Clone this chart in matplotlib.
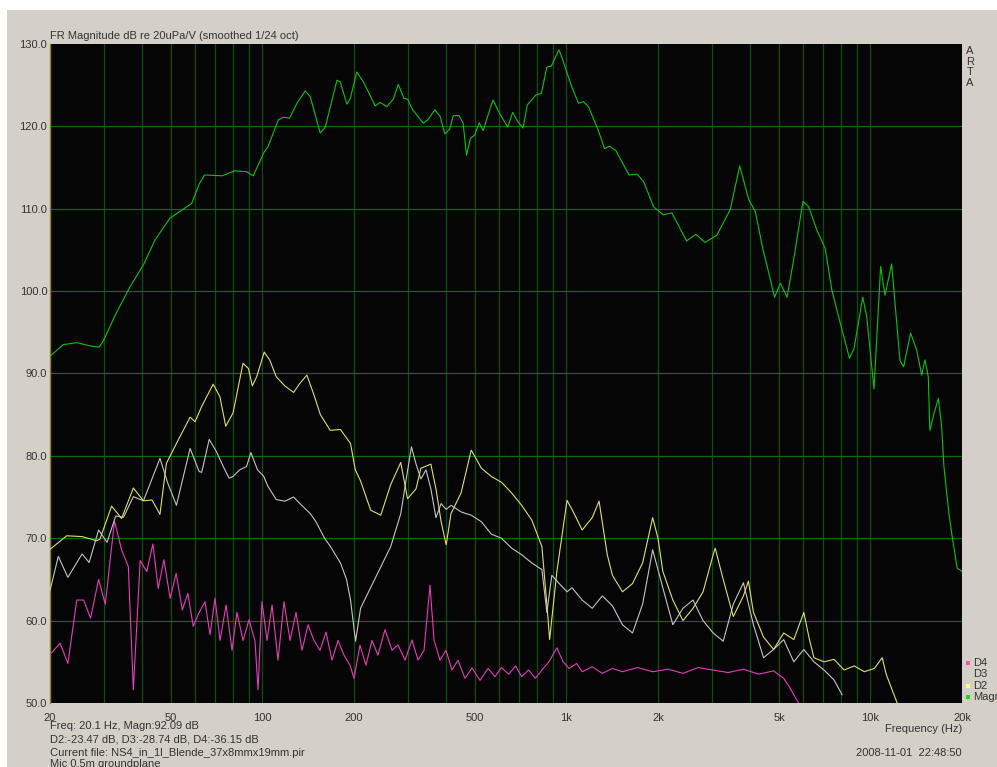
import numpy as np
import matplotlib.pyplot as plt
from matplotlib.patches import Rectangle

# =========================
# DATA (frequency in Hz, level in dB)
# =========================
magn_f = [20, 22.1, 24.5, 27.1, 29.0, 29.9, 33.0, 36.7, 40.6, 44.3, 49.6, 58.5,
          61.9, 64.5, 73.7, 81, 88.6, 93.3, 101.3, 104.2, 112.8, 117.1, 122.7,
          129.8, 138.2, 143.6, 154.8, 160.9, 175.8, 180.2, 189.5, 194.5, 204.3,
          214.8, 234.8, 243.9, 256.4, 269.3, 279.7, 292, 300, 312, 338, 350,
          369, 384, 398, 413, 424, 443, 457, 469, 483, 499, 516, 532, 548, 573,
          602, 641, 665, 691, 720, 743, 772, 791, 827, 862, 891, 944, 967, 1041,
          1095, 1137, 1181, 1270, 1334, 1385, 1454, 1606, 1708, 1794, 1933,
          2083, 2220, 2334, 2484, 2666, 2854, 3124, 3457, 3714, 3979, 4180,
          4433, 4629, 4834, 5056, 5316, 5588, 5997, 6260, 6665, 7095, 7465,
          7755, 8528, 8830, 9430, 9720, 10270, 10800, 11160, 11740, 12500,
          12850, 13550, 14190, 14740, 15110, 15490, 15680, 16200, 16720, 17140,
          17440, 18110, 18570, 19290, 20000]
magn_db = [92.1, 93.5, 93.75, 93.35, 93.2, 93.9, 97.3, 100.55, 103.2, 106.2,
           108.85, 110.65, 113.0, 114.1, 114.0, 114.6, 114.5, 114.0, 116.9,
           117.5, 120.8, 121.1, 121.0, 122.8, 124.3, 123.6, 119.2, 119.9, 125.6,
           125.4, 122.7, 123.4, 126.6, 125.4, 122.5, 122.9, 122.4, 123.3, 125.1,
           123.4, 123.3, 122.0, 120.4, 120.8, 122.0, 121.2, 119.1, 119.65,
           121.3, 121.3, 120.4, 116.5, 118.55, 118.95, 120.45, 119.5, 121.0,
           123.2, 121.6, 119.9, 121.7, 120.6, 119.8, 122.6, 123.3, 123.8, 124.0,
           127.2, 127.3, 129.3, 128.3, 124.8, 122.8, 123.0, 122.4, 119.6, 117.3,
           117.6, 117.05, 114.1, 114.2, 113.3, 110.25, 109.25, 109.5, 108.0,
           106.1, 106.9, 105.9, 106.8, 109.9, 115.2, 111.1, 109.65, 105.0, 102.2,
           99.25, 100.95, 99.25, 103.8, 110.9, 110.25, 107.4, 105.2, 100.1, 97.7,
           91.85, 93.05, 99.25, 96.9, 88.1, 103.0, 99.5, 103.3, 91.6, 90.8, 94.9,
           92.85, 89.8, 91.65, 89.6, 83.1, 85.2, 87.0, 83.6, 78.7, 73.0, 70.2,
           66.35, 66.0]

d2_f = [20, 22.7, 25.5, 28.5, 29.2, 31.9, 34.4, 37.6, 40.6, 43.3, 46.0, 48.3,
        52.1, 57.8, 60, 63.1, 68.8, 72.4, 75.7, 80.0, 86.3, 89.9, 92.6, 95.7,
        101.3, 105.6, 111, 118.4, 126.6, 132.7, 140, 148.3, 155, 167, 180.5,
        194.8, 202, 210, 227, 245, 264, 285, 300, 320, 332, 358, 372, 387, 402,
        417, 450, 486, 525, 566, 611, 660, 712, 769, 830, 862, 880, 930, 1004,
        1043, 1126, 1215, 1280, 1362, 1416, 1528, 1649, 1780, 1921, 2000, 2074,
        2238, 2416, 2608, 2814, 3037, 3084, 3278, 3538, 3819, 3967, 4121, 4448,
        4801, 5182, 5593, 6036, 6271, 6515, 7032, 7589, 8191, 8840, 9541,
        10300, 10930, 11260, 11780, 12240]
d2_db = [68.65, 70.3, 70.2, 69.7, 69.9, 73.9, 72.4, 76.1, 74.55, 74.65, 72.9,
         79.1, 81.5, 84.7, 84.15, 86.0, 88.7, 87.2, 83.6, 85.2, 91.25, 90.6,
         88.5, 89.6, 92.6, 91.65, 89.6, 88.5, 87.7, 88.8, 89.8, 87.2, 85.0,
         83.1, 83.2, 81.5, 78.3, 77.0, 73.4, 72.8, 76.5, 79.2, 74.8, 76.0,
         78.5, 79.0, 76.0, 72.0, 69.2, 73.0, 75.5, 80.7, 78.5, 77.5, 76.8,
         75.5, 74.0, 72.2, 69.0, 62.0, 57.7, 66.0, 74.6, 73.5, 71.0, 72.5,
         74.5, 68.0, 65.5, 63.5, 64.5, 67.0, 72.5, 70.0, 66.0, 62.5, 60.0, 61.5,
         63.5, 68.0, 68.8, 65.0, 60.5, 63.0, 64.8, 61.0, 58.0, 56.5, 58.5,
         57.7, 61.0, 58.0, 55.5, 55.0, 55.3, 54.0, 54.5, 53.8, 54.2, 55.5, 53.5,
         51.6, 50.0]

d3_f = [20, 21.3, 22.9, 25.5, 26.9, 28.9, 30.8, 32.9, 34.9, 37.6, 40.6, 46,
        48.8, 52.1, 57.8, 61.9, 63.1, 66.8, 70.6, 74.1, 77.6, 80.0, 84.1, 88.6,
        91.6, 96.3, 100.8, 104.2, 111, 118.4, 126.6, 132.8, 143.6, 150, 160,
        167.3, 180.5, 189, 194.8, 202.4, 210.2, 226.8, 244.8, 264.2, 285.1,
        298, 309, 320, 332, 345, 358, 372, 387, 402, 417, 450, 486, 525, 566,
        611, 660, 712, 769, 830, 862, 895, 930, 1004, 1043, 1126, 1215, 1312,
        1416, 1528, 1649, 1780, 1921, 2074, 2238, 2416, 2608, 2814, 3037, 3278,
        3538, 3819, 4121, 4448, 4801, 5182, 5593, 6036, 6515, 7032, 7589, 8064]
d3_db = [63.65, 67.8, 65.25, 68.1, 67.05, 71.0, 69.5, 72.7, 72.55, 75.05,
         74.55, 79.7, 76.7, 74.0, 80.9, 78.1, 78.0, 82.0, 80.5, 78.8, 77.3,
         77.5, 78.3, 78.7, 80.4, 78.3, 77.55, 76.3, 74.7, 74.5, 75.0, 74.2,
         73.0, 72.0, 70.0, 69.0, 67.0, 65.0, 62.5, 57.5, 61.5, 64.0, 66.5,
         69.0, 73.0, 77.5, 81.1, 79.0, 77.2, 78.3, 76.0, 72.5, 74.2, 73.5,
         74.0, 73.2, 72.8, 72.0, 70.5, 70.0, 68.8, 68.0, 67.0, 66.2, 61.0,
         65.5, 64.8, 63.5, 64.0, 62.5, 61.5, 63.0, 61.8, 59.5, 58.5, 62.0,
         68.6, 64.0, 59.5, 61.5, 62.5, 60.0, 58.5, 57.5, 62.0, 64.6, 59.5,
         55.5, 56.5, 57.7, 55.0, 56.5, 55.0, 54.0, 52.8, 51.0]

d4_f = [20, 21.6, 22.9, 24.5, 25.8, 27.2, 28.9, 30.4, 32.6, 34.4, 36.2, 37.6,
        39.6, 41.6, 43.6, 45.4, 47.4, 49.7, 52.0, 54.5, 56.8, 59.2, 61.5, 64.7,
        67.2, 69.8, 72.5, 75.9, 79.4, 82.4, 86.3, 90.3, 94.5, 96.7, 99.6, 103.5,
        107.5, 112.5, 117.7, 123.2, 128.9, 134.9, 141.2, 147.7, 154.6, 161.8,
        169.3, 177.2, 185.4, 194.0, 200, 209.3, 219, 229.2, 239.8, 252.9,
        266.8, 279.2, 294.4, 310.4, 324.8, 339.9, 355.7, 366.6, 383.6, 401.4,
        420.1, 439.6, 463.6, 488.9, 519.5, 552, 582, 611, 645, 680, 712, 750,
        790, 830, 875, 930, 975, 1020, 1080, 1126, 1215, 1312, 1416, 1528,
        1713, 1921, 2160, 2416, 2710, 3037, 3400, 3819, 4290, 4801, 5182, 5400,
        5593, 5800]
d4_db = [55.9, 57.25, 54.8, 62.5, 62.5, 60.3, 65.0, 62.0, 72.1, 68.6, 66.55,
         51.6, 67.3, 65.95, 69.3, 63.9, 67.4, 62.7, 65.75, 61.3, 63.3, 59.3,
         60.8, 62.3, 58.3, 62.7, 57.6, 61.9, 56.4, 61.0, 57.6, 60.1, 57.5,
         51.6, 62.3, 57.6, 61.9, 55.2, 62.3, 57.6, 61.0, 56.4, 59.5, 57.6,
         56.4, 58.6, 55.2, 57.6, 55.8, 54.6, 53.0, 57.0, 54.6, 57.6, 55.8,
         58.9, 56.4, 57.05, 55.2, 57.65, 55.2, 56.4, 64.3, 57.65, 55.2, 56.4,
         54.0, 55.2, 53.0, 54.25, 52.75, 54.2, 53.2, 54.3, 53.5, 54.5, 53.2,
         54.0, 53.0, 54.0, 55.0, 56.7, 55.0, 54.2, 54.8, 53.8, 54.4, 53.6,
         54.2, 53.8, 54.3, 53.8, 54.1, 53.6, 54.3, 54.0, 53.7, 54.1, 53.5,
         53.9, 53.0, 52.0, 51.0, 50.0]

x_ticks = [20, 50, 100, 200, 500, 1000, 2000, 5000, 10000, 20000]
x_tick_labels = ["20", "50", "100", "200", "500", "1k", "2k", "5k", "10k", "20k"]
y_ticks = [50, 60, 70, 80, 90, 100, 110, 120, 130]

# =========================
# FIGURE
# =========================
W, H = 997, 767
fig = plt.figure(figsize=(W / 100, H / 100), dpi=100)
fig.patch.set_facecolor("white")

# window background panel
bg = fig.add_axes([0, 0, 1, 1], zorder=-10)
bg.set_xlim(0, W)
bg.set_ylim(H, 0)
bg.axis("off")
bg.add_patch(Rectangle((7, 10), W - 7, H - 10, facecolor="#d4d0c8", edgecolor="none"))

ax = fig.add_axes([50 / W, 1 - 703 / H, 912 / W, 659 / H], zorder=1)
ax.set_facecolor("#050505")
ax.set_xscale("log")
ax.set_xlim(20, 20000)
ax.set_ylim(50, 130)

# grid
minor_x = [m * d for d in (10, 100, 1000, 10000) for m in range(1, 10)]
minor_x = [v for v in minor_x if 20 < v < 20000]
for v in minor_x:
    ax.axvline(v, color="#0b4f0b", lw=0.9, zorder=1)
for v in y_ticks[1:-1]:
    ax.axhline(v, color="#0f6a0f", lw=0.9, zorder=1)

lw = 0.8
ax.plot(d4_f, d4_db, color="#e040b8", lw=lw, zorder=3)
ax.plot(d3_f, d3_db, color="#c4c4c4", lw=lw, zorder=3)
ax.plot(d2_f, d2_db, color="#dede6a", lw=lw, zorder=3)
ax.plot(magn_f, magn_db, color="#10c010", lw=lw, zorder=4)

for s in ("top", "right", "bottom"):
    ax.spines[s].set_visible(False)
ax.spines["left"].set_color("#8a8a10")
ax.spines["left"].set_linewidth(1.0)

fs = 8
tc = "#333333"
ax.set_xticks(x_ticks)
ax.set_xticklabels(x_tick_labels)
ax.xaxis.set_minor_locator(plt.NullLocator())
ax.set_yticks(y_ticks)
ax.set_yticklabels([f"{v:.1f}" for v in y_ticks])
ax.tick_params(length=0, labelsize=fs, labelcolor=tc)
for lab in ax.get_xticklabels() + ax.get_yticklabels():
    lab.set_fontfamily("Liberation Sans")
ax.tick_params(axis="x", pad=7)
ax.tick_params(axis="y", pad=2)

font = dict(fontfamily="Liberation Sans", fontsize=fs, color=tc)

def px(x, y, s, ha="left", va="center", **kw):
    opts = dict(font)
    opts.update(kw)
    fig.text(x / W, 1 - y / H, s, ha=ha, va=va, **opts)

px(50, 36, "FR Magnitude dB re 20uPa/V (smoothed 1/24 oct)")
for i, ch in enumerate("ARTA"):
    px(970, 51 + i * 10.7, ch, ha="center")

px(962, 729, "Frequency (Hz)", ha="right")
px(962, 753, "2008-11-01  22:48:50", ha="right")
px(50, 726, "Freq: 20.1 Hz, Magn:92.09 dB")
px(50, 740, "D2:-23.47 dB, D3:-28.74 dB, D4:-36.15 dB")
px(50, 753, "Current file: NS4_in_1l_Blende_37x8mmx19mm.pir")
px(50, 764, "Mic 0.5m groundplane")

# legend
legend_items = [("D4", "#ff50c8"), ("D3", "#d0d0d0"), ("D2", "#ffff80"), ("Magn", "#10e010")]
for i, (name, col) in enumerate(legend_items):
    yy = 663 + i * 11.3
    bg.add_patch(Rectangle((966, yy - 2), 4, 4, facecolor=col, edgecolor="none"))
    px(973, yy, name)

fig.savefig("out.png", dpi=100, facecolor=fig.get_facecolor())
